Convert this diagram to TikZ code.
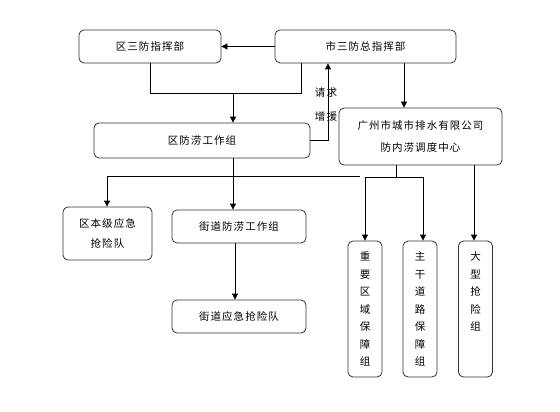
\documentclass[tikz,border=0pt]{standalone}
\usepackage{fontspec}
\newfontfamily\cjk[LetterSpace=10]{Noto Sans CJK SC}
\usetikzlibrary{arrows.meta}
\tikzset{
  box/.style={draw=black!80, line width=0.8pt, rounded corners=5pt, inner sep=0pt,
    align=center, font=\cjk\fontsize{10.5}{20}\selectfont},
  vbox/.style={box, minimum width=34pt, minimum height=136pt, font=\cjk\fontsize{10.5}{17.5}\selectfont},
  link/.style={line width=0.8pt, draw=black},
  arr/.style={link, -{Triangle[length=6pt,width=6pt]}},
  lbl/.style={inner sep=0pt, align=center, font=\cjk\fontsize{10.5}{24}\selectfont}
}
\begin{document}
\begin{tikzpicture}[x=1pt,y=-1pt]
\useasboundingbox (0,0) rectangle (560,412);
\fill[white] (0,0) rectangle (560,412);
% boxes
\node[box, minimum width=142pt, minimum height=33pt] (qs) at (150,46.5) {区三防指挥部};
\node[box, minimum width=181pt, minimum height=33pt] (ss) at (365.5,46.5) {市三防总指挥部};
\node[box, minimum width=216pt, minimum height=35pt] (qfl) at (202,140.5) {区防涝工作组};
\node[box, minimum width=163pt, minimum height=57pt, font=\cjk\fontsize{10.5}{22}\selectfont] (gz) at (420.5,136.5) {广州市城市排水有限公司\\防内涝调度中心};
\node[box, minimum width=89pt, minimum height=53pt] (bj) at (107.5,233.5) {区本级应急\\抢险队};
\node[box, minimum width=134pt, minimum height=33pt] (jd) at (239,226.5) {街道防涝工作组};
\node[box, minimum width=134pt, minimum height=33pt] (jy) at (239,316.5) {街道应急抢险队};
\node[vbox] (zy) at (365,309) {重\\要\\区\\域\\保\\障\\组};
\node[vbox] (zg) at (420,309) {主\\干\\道\\路\\保\\障\\组};
\node[vbox] (dx) at (475.5,309) {大\\型\\抢\\险\\组\\\phantom{组}\\\phantom{组}};
% column / junction coordinates
\coordinate (c301) at (301,0);
\coordinate (c328) at (328,0);
\coordinate (c404) at (404,0);
\coordinate (c474) at (474,0);
\coordinate (c235) at (235,0);
\coordinate (m1) at (233,93);
\coordinate (h0) at (233,176);
\coordinate (h1) at (107,176);
\coordinate (h2) at (360,176);
\coordinate (g0) at (396,177);
\coordinate (g1) at (365,177);
\coordinate (g2) at (423,177);
% connectors
\draw[arr] (ss.west) -- (qs.east);
\draw[link] (qs.south) |- (m1);
\draw[link] (ss.south -| c301) |- (m1);
\draw[arr] (m1) -- (m1 |- qfl.north);
\draw[arr] (ss.south -| c404) -- (gz.north -| c404);
\draw[arr] (qfl.east) -| (ss.south -| c328);
\node[lbl] (qq) at (326,105) {请求\\增援};
\draw[link] (qfl.south -| h0) -- (h0);
\draw[link] (h1) -- (h2);
\draw[arr] (h1) -- (bj.north -| h1);
\draw[arr] (h0) -- (jd.north -| h0);
\draw[arr] (jd.south -| c235) -- (jy.north -| c235);
\draw[link] (gz.south -| g0) -- (g0);
\draw[link] (g1) -- (g2);
\draw[arr] (g1) -- (zy.north);
\draw[arr] (g2) -- (zg.north -| g2);
\draw[arr] (gz.south -| c474) -- (dx.north -| c474);
\end{tikzpicture}
\end{document}
